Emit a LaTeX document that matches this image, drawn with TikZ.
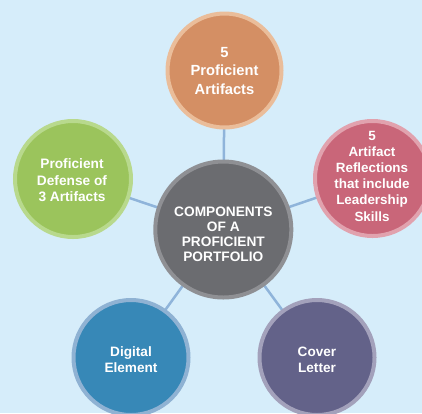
\documentclass[tikz,border=0pt]{standalone}
\usepackage{fontspec}
\setmainfont{Liberation Sans}
\definecolor{bg}{HTML}{D6EDFA}
\definecolor{conn}{HTML}{8FB4DA}
\definecolor{orF}{HTML}{D48F64}\definecolor{orR}{HTML}{EABD9A}
\definecolor{piF}{HTML}{C96679}\definecolor{piR}{HTML}{E1A2AE}
\definecolor{grF}{HTML}{9BC45C}\definecolor{grR}{HTML}{B8D98D}
\definecolor{blF}{HTML}{3788B7}\definecolor{blR}{HTML}{8FB2D3}
\definecolor{puF}{HTML}{636289}\definecolor{puR}{HTML}{A3A1BB}
\definecolor{gyF}{HTML}{6B6C70}\definecolor{gyR}{HTML}{8F9094}
\begin{document}
\begin{tikzpicture}[x=1pt,y=-1pt,
  bubble/.style 2 args={circle,fill=#1,draw=#2,line width=4pt,inner sep=0pt},
  lbl/.style={text=white,align=center,font=\bfseries,inner sep=0pt},
  link/.style={draw=conn,line width=2.5pt}]
\fill[bg] (0,0) rectangle (422,413);
\useasboundingbox (0,0) rectangle (422,413);
\clip (0,0) rectangle (422,413);
\coordinate (cC) at (223.3,229.5);
\coordinate (cT) at (224.5,70.5);
\coordinate (cR) at (372.5,178.5);
\coordinate (cL) at (73,179);
\coordinate (cBL) at (131,357.5);
\coordinate (cBR) at (317,357.5);
\draw[link] (cC) -- (cT);
\draw[link] (cC) -- (cR);
\draw[link] (cC) -- (cL);
\draw[link] (cC) -- (cBL);
\draw[link] (cC) -- (cBR);
\node[bubble={orF}{orR},minimum size=114pt] (top) at (cT) {};
\node[bubble={piF}{piR},minimum size=115pt] (right) at (cR) {};
\node[bubble={grF}{grR},minimum size=116pt] (left) at (cL) {};
\node[bubble={blF}{blR},minimum size=115pt] (bl) at (cBL) {};
\node[bubble={puF}{puR},minimum size=115pt] (br) at (cBR) {};
\node[bubble={gyF}{gyR},minimum size=136pt] (center) at (cC) {};
\node[lbl,font=\bfseries\fontsize{14.7}{18.3}\selectfont] (topt) at ([yshift=-0.5pt]cT) {5\\Proficient\\Artifacts};
\node[lbl,font=\bfseries\fontsize{13.4}{16.2}\selectfont] (rightt) at ([xshift=-0.5pt,yshift=2.5pt]cR) {5\\Artifact\\Reflections\\that include\\Leadership\\Skills};
\node[lbl,font=\bfseries\fontsize{13.7}{16.5}\selectfont] (leftt) at ([xshift=-1pt,yshift=-1.5pt]cL) {Proficient\\Defense of\\3 Artifacts};
\node[lbl,font=\bfseries\fontsize{13.6}{16}\selectfont] (blt) at ([yshift=-2.5pt]cBL) {Digital\\Element};
\node[lbl,font=\bfseries\fontsize{13.6}{16}\selectfont] (brt) at ([yshift=-2.5pt]cBR) {Cover\\Letter};
\node[lbl,font=\bfseries\fontsize{13.7}{15}\selectfont] (centert) at ([yshift=-5pt]cC) {COMPONENTS\\OF A\\PROFICIENT\\PORTFOLIO};
\end{tikzpicture}
\end{document}
